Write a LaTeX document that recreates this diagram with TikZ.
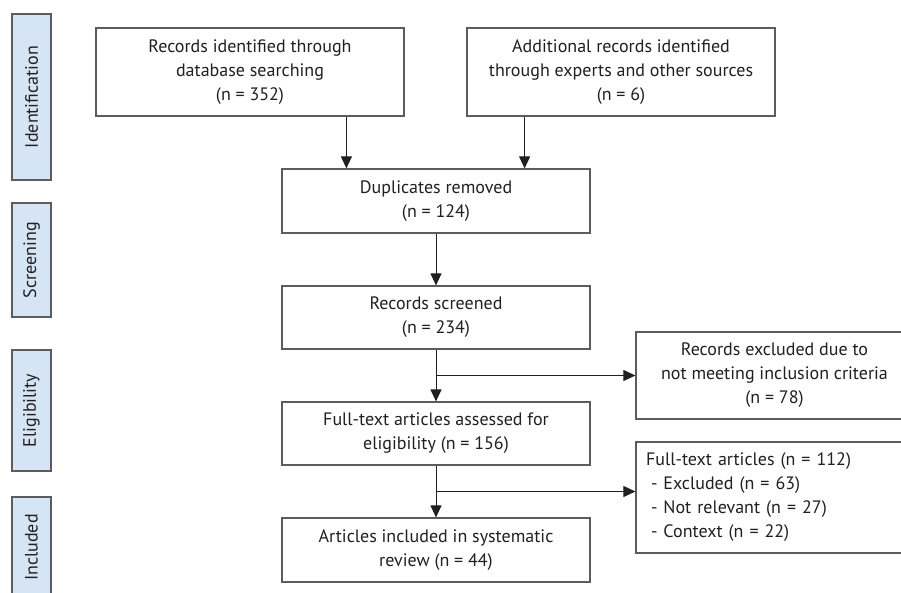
\documentclass[tikz,border=0pt]{standalone}
\usepackage{fontspec}
\setmainfont{PT Sans}
\usetikzlibrary{arrows.meta}
\definecolor{phasefill}{HTML}{D5E5F5}
\definecolor{boxline}{HTML}{5C5C5C}
\definecolor{ink}{HTML}{231F20}
\tikzset{
	box/.style={draw=boxline, line width=1.2pt, fill=white, align=center, inner sep=0pt,
		minimum width=308pt, minimum height=64pt, text=ink, font=\fontsize{18}{24}\selectfont},
	phase/.style={draw=boxline, line width=1.2pt, fill=phasefill, rotate=90, inner sep=0pt,
		minimum height=39pt, text=ink, font=\fontsize{18}{24}\selectfont},
	flow/.style={draw=ink, line width=1pt, -{Triangle[length=12pt,width=11pt]}}
}
\begin{document}
\begin{tikzpicture}[x=1pt,y=-1pt]
	\useasboundingbox (0,0) rectangle (901,592);
	% phases
	\node (ident) at (31.5,97) [phase, minimum width=166pt] {Identification};
	\node (scr) at (31.5,260) [phase, minimum width=114pt] {Screening};
	\node (elig) at (31.5,410.5) [phase, minimum width=121pt] {Eligibility};
	\node (inc) at (31.5,547.5) [phase, minimum width=101pt] {Included};
	% main flow
	\node (db) at (250,72) [box, minimum height=88pt] {Records identified through\\database searching\\(n = 352)};
	\node (other) at (621,72) [box, minimum height=88pt] {Additional records identified\\through experts and other sources\\(n = 6)};
	\node (dup) at (436,201) [box] {Duplicates removed\\(n = 124)};
	\node (screen) at (436,317.5) [box, minimum height=63pt] {Records screened\\(n = 234)};
	\node (full) at (436,433.5) [box, minimum height=63pt] {Full-text articles assessed for\\eligibility (n = 156)};
	\node (incl) at (436,550) [box] {Articles included in systematic\\review (n = 44)};
	% exclusions
	\node (excl) at (774.5,375.5) [box, minimum width=277pt, minimum height=87pt] {Records excluded due to\\not meeting inclusion criteria\\(n = 78)};
	\node (drop) at (774.5,497.5) [box, minimum width=277pt, minimum height=111pt, text width=257pt, align=left] {Full-text articles (n = 112)\\\hspace{5pt}- Excluded (n = 63)\\\hspace{5pt}- Not relevant (n = 27)\\\hspace{5pt}- Context (n = 22)};
	\coordinate (fork) at (436,491.5);
	% arrows
	\draw[flow] ([xshift=65pt]dup.north west |- db.south) -- ([xshift=65pt]dup.north west);
	\draw[flow] ([xshift=-66pt]dup.north east |- other.south) -- ([xshift=-66pt]dup.north east);
	\draw[flow] (dup) -- (screen);
	\draw[flow] (screen) -- (full);
	\draw[flow] (screen.south |- excl.west) -- (excl.west);
	\draw[flow] (full) -- (incl);
	\draw[flow] (fork) -- (fork -| drop.west);
\end{tikzpicture}
\end{document}
